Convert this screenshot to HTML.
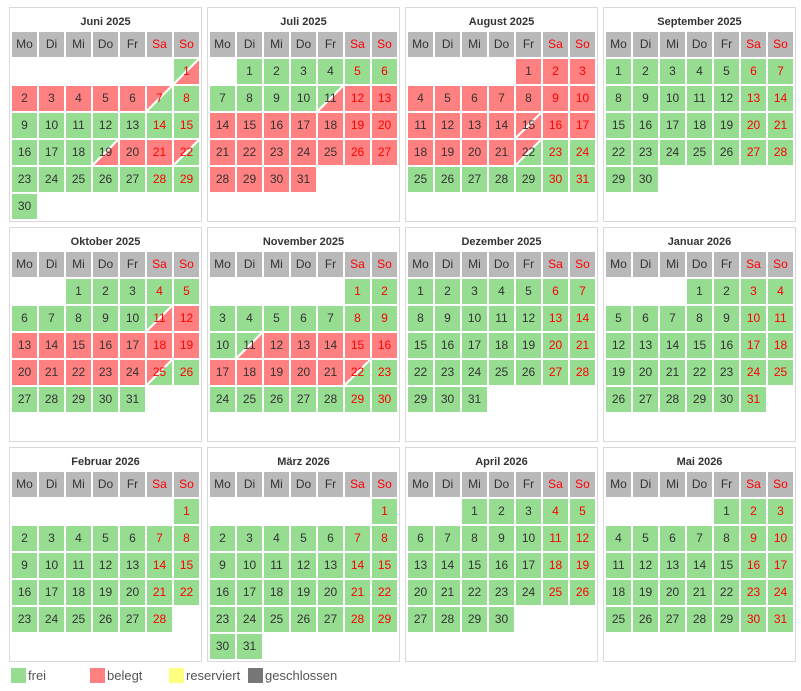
<!DOCTYPE html>
<html><head><meta charset="utf-8">
<style>
body{margin:0;width:801px;height:691px;background:#fff;position:relative;font-family:"Liberation Sans","DejaVu Sans",sans-serif;overflow:hidden}
.box{position:absolute;width:191px;height:213px;border:1px solid #d9d9d9;background:#fff}
.t{position:absolute;left:0;width:191px;top:8px;text-align:center;font-weight:bold;font-size:11px;color:#333}
.c{position:absolute;width:25px;height:25px;line-height:25px;text-align:center;font-size:12px;color:#333}
.h{background:#b9b9b9}
.w{color:#f00}
.lg{position:absolute;top:668px;width:15px;height:15px}
.lt{position:absolute;top:668px;font-size:13px;color:#555;line-height:16px}
</style></head><body>
<div id="root"></div>
<div class="lg" style="left:11px;background:#96dc91"></div><div class="lt" style="left:28px">frei</div>
<div class="lg" style="left:90px;background:#ff8080"></div><div class="lt" style="left:107px">belegt</div>
<div class="lg" style="left:169px;background:#ffff80"></div><div class="lt" style="left:186px">reserviert</div>
<div class="lg" style="left:248px;background:#777"></div><div class="lt" style="left:265px">geschlossen</div>
<script>
var G='#96dc91',R='#ff8080';
var months=[
["Juni 2025",6,30,{1:'GR',2:'R',3:'R',4:'R',5:'R',6:'R',7:'RG',19:'GR',20:'R',21:'R',22:'RG'}],
["Juli 2025",1,31,{11:'GR'},12,31],
["August 2025",4,31,{15:'RR',22:'RG'},1,21],
["September 2025",0,30,{}],
["Oktober 2025",2,31,{11:'GR',25:'RG'},12,24],
["November 2025",5,30,{11:'GR',22:'RG'},12,21],
["Dezember 2025",0,31,{}],
["Januar 2026",3,31,{}],
["Februar 2026",6,28,{}],
["März 2026",6,31,{}],
["April 2026",2,30,{}],
["Mai 2026",4,31,{}]
];
var days=["Mo","Di","Mi","Do","Fr","Sa","So"];
var html='';
months.forEach(function(m,i){
 var bx=9+198*(i%4), by=7+220*Math.floor(i/4);
 var s='<div class="box" style="left:'+bx+'px;top:'+by+'px"><div class="t">'+m[0]+'</div>';
 for(var k=0;k<7;k++){
  s+='<div class="c h'+(k>=5?' w':'')+'" style="left:'+(2+27*k)+'px;top:24px">'+days[k]+'</div>';
 }
 for(var d=1;d<=m[2];d++){
  var p=m[1]+d-1, col=p%7, row=Math.floor(p/7);
  var st=m[3][d];
  if(!st){ st=(m[4]&&d>=m[4]&&d<=m[5])?'R':'G'; }
  var bg;
  if(st.length==1) bg=(st=='R'?R:G);
  else {var a=st[0]=='R'?R:G,b=st[1]=='R'?R:G; bg='linear-gradient(to bottom right,'+a+' 47%,#fff 47%,#fff 53%,'+b+' 53%)';}
  s+='<div class="c'+(col>=5?' w':'')+'" style="left:'+(2+27*col)+'px;top:'+(51+27*row)+'px;background:'+bg+'">'+d+'</div>';
 }
 s+='</div>';
 html+=s;
});
document.getElementById('root').innerHTML=html;
</script>
</body></html>
